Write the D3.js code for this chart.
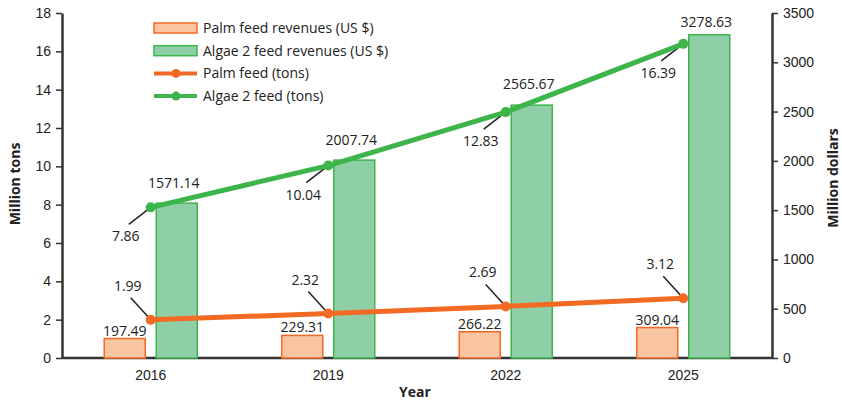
<!DOCTYPE html>
<html>
<head>
<meta charset="utf-8">
<script src="https://cdn.jsdelivr.net/npm/d3@7"></script>
<style>
body { margin: 0; background: #fff; }
svg { font-family: "Open Sans", "Noto Sans", sans-serif; }
.tick text { font-size: 14px; fill: #222; }
.lbl { font-size: 14px; fill: #222; text-anchor: middle; }
.ttl { font-size: 14px; font-weight: bold; fill: #222; text-anchor: middle; }
</style>
</head>
<body>
<svg width="842" height="403"></svg>
<script>
const years = ["2016", "2019", "2022", "2025"]
const palmRevenue = [197.49, 229.31, 266.22, 309.04]
const algaeRevenue = [1571.14, 2007.74, 2565.67, 3278.63]
const palmTons = [1.99, 2.32, 2.69, 3.12]
const algaeTons = [7.86, 10.04, 12.83, 16.39]
const tonTicks = [0, 2, 4, 6, 8, 10, 12, 14, 16, 18]
const dollarTicks = [0, 500, 1000, 1500, 2000, 2500, 3000, 3500]

const orange = "#f26a24", orangeFill = "#f9c4a0"
const green = "#3db54a", greenFill = "#8fcfa8"

const svg = d3.select("svg")
const plotL = 62, plotR = 772, plotT = 13, plotB = 358

//scales
const x = d3.scaleBand().domain(years).range([plotL, plotR])
const yTons = d3.scaleLinear().domain([0, 18]).range([plotB, plotT])
const yDollars = d3.scaleLinear().domain([0, 3500]).range([plotB, plotT])
const cx = d => x(d) + x.bandwidth() / 2

//axes
const axL = svg.append("g").attr("transform", `translate(${plotL},0)`)
	.call(d3.axisLeft(yTons).tickValues(tonTicks).tickSizeOuter(0).tickPadding(5))
const axR = svg.append("g").attr("transform", `translate(${plotR},0)`)
	.call(d3.axisRight(yDollars).tickValues(dollarTicks).tickFormat(d3.format("d")).tickSizeOuter(0).tickPadding(5))
const axB = svg.append("g").attr("transform", `translate(0,${plotB})`)
	.call(d3.axisBottom(x).tickSize(0).tickPadding(12))
axB.select(".domain").attr("d", `M${plotL},0H${plotR}`)
svg.selectAll(".domain").attr("stroke", "#333").attr("stroke-width", 2.5)
svg.selectAll(".tick line").attr("stroke", "#333").attr("stroke-width", 1.5)

//axis titles
svg.append("text").attr("class", "ttl")
	.attr("transform", "translate(20,184) rotate(-90)").text("Million tons")
svg.append("text").attr("class", "ttl")
	.attr("transform", "translate(838,178) rotate(-90)").text("Million dollars")
svg.append("text").attr("class", "ttl").attr("x", 415).attr("y", 397).text("Year")

//bars
const bw = 41, off = 26
svg.selectAll("rect.palm").data(years).enter().append("rect")
	.attr("x", (d, i) => cx(d) - off - bw / 2)
	.attr("y", (d, i) => yDollars(palmRevenue[i]))
	.attr("width", bw)
	.attr("height", (d, i) => plotB - yDollars(palmRevenue[i]))
	.attr("fill", orangeFill).attr("stroke", orange).attr("stroke-width", 1.5)
svg.selectAll("rect.algae").data(years).enter().append("rect")
	.attr("x", (d, i) => cx(d) + off - bw / 2)
	.attr("y", (d, i) => yDollars(algaeRevenue[i]))
	.attr("width", bw)
	.attr("height", (d, i) => plotB - yDollars(algaeRevenue[i]))
	.attr("fill", greenFill).attr("stroke", green).attr("stroke-width", 1.5)

//bar labels
svg.selectAll("text.pr").data(years).enter().append("text").attr("class", "lbl")
	.attr("x", (d, i) => cx(d) - off)
	.attr("y", (d, i) => yDollars(palmRevenue[i]) - 3)
	.text((d, i) => palmRevenue[i].toFixed(2))

// green bar labels sit above whichever is higher: bar top or green line
const lineYAt = i => {
	if (i == years.length - 1) return Infinity
	const y0 = yTons(algaeTons[i]), y1 = yTons(algaeTons[i + 1])
	return y0 + (y1 - y0) * off / x.step()
}
svg.selectAll("text.ar").data(years).enter().append("text").attr("class", "lbl")
	.attr("x", (d, i) => cx(d) + off - 3)
	.attr("y", (d, i) => {
		const top = Math.min(yDollars(algaeRevenue[i]), lineYAt(i))
		return i == years.length - 1 ? top - 8 : top - 13
	})
	.text((d, i) => algaeRevenue[i].toFixed(2))

//leader lines + point labels
const leader = (vals, dx, dy, ty) => {
	svg.selectAll(null).data(years).enter().append("line")
		.attr("x1", (d, i) => cx(d)).attr("y1", (d, i) => yTons(vals[i]))
		.attr("x2", (d, i) => cx(d) + dx).attr("y2", (d, i) => yTons(vals[i]) + dy)
		.attr("stroke", "#222").attr("stroke-width", 1.5)
	svg.selectAll(null).data(years).enter().append("text").attr("class", "lbl")
		.attr("x", (d, i) => cx(d) + dx - 3)
		.attr("y", (d, i) => yTons(vals[i]) + ty)
		.text((d, i) => vals[i].toFixed(2))
}
leader(algaeTons, -22, 17, 34)
leader(palmTons, -20, -22, -29)

//lines
const line = vals => d3.line().x((d, i) => cx(d)).y((d, i) => yTons(vals[i]))
svg.append("path").datum(years).attr("d", line(palmTons))
	.attr("fill", "none").attr("stroke", orange).attr("stroke-width", 5)
svg.append("path").datum(years).attr("d", line(algaeTons))
	.attr("fill", "none").attr("stroke", green).attr("stroke-width", 5)
svg.selectAll("circle.p").data(years).enter().append("circle")
	.attr("cx", d => cx(d)).attr("cy", (d, i) => yTons(palmTons[i])).attr("r", 5).attr("fill", orange)
svg.selectAll("circle.a").data(years).enter().append("circle")
	.attr("cx", d => cx(d)).attr("cy", (d, i) => yTons(algaeTons[i])).attr("r", 5).attr("fill", green)

//legend
const legend = [
	{name: "Palm feed revenues (US $)", type: "bar", fill: orangeFill, stroke: orange},
	{name: "Algae 2 feed revenues (US $)", type: "bar", fill: greenFill, stroke: green},
	{name: "Palm feed (tons)", type: "line", stroke: orange},
	{name: "Algae 2 feed (tons)", type: "line", stroke: green}
]
const lg = svg.selectAll("g.leg").data(legend).enter().append("g")
	.attr("transform", (d, i) => `translate(154,${28 + i * 22.7})`)
lg.filter(d => d.type == "bar").append("rect")
	.attr("x", 0).attr("y", -5).attr("width", 43).attr("height", 10)
	.attr("fill", d => d.fill).attr("stroke", d => d.stroke).attr("stroke-width", 1.5)
lg.filter(d => d.type == "line").append("line")
	.attr("x1", 0).attr("x2", 43).attr("stroke", d => d.stroke).attr("stroke-width", 4)
lg.filter(d => d.type == "line").append("circle")
	.attr("cx", 22).attr("r", 4.5).attr("fill", d => d.stroke)
lg.append("text").attr("x", 49).attr("y", 5).style("font-size", "14px").attr("fill", "#222")
	.text(d => d.name)
</script>
</body>
</html>
